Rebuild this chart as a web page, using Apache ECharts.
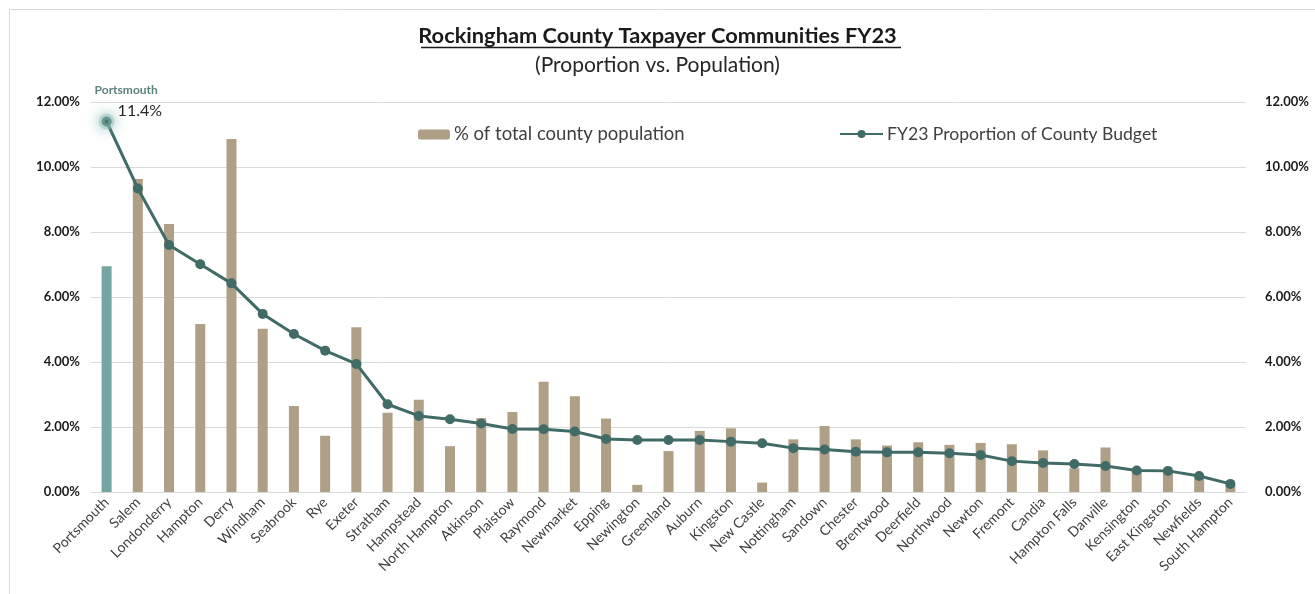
<!DOCTYPE html>
<html>
<head>
<meta charset="utf-8">
<title>Rockingham County Taxpayer Communities FY23</title>
<script src="https://cdn.jsdelivr.net/npm/echarts@6/dist/echarts.min.js"></script>
<style>
  html, body { margin: 0; padding: 0; background: #ffffff; }
  #chart { width: 1315px; height: 594px; }
</style>
</head>
<body>
<div id="chart"></div>
<script>
// Towns of Rockingham County, ordered by share of the FY23 county budget
const towns = [
  'Portsmouth', 'Salem', 'Londonderry', 'Hampton', 'Derry', 'Windham', 'Seabrook', 'Rye',
  'Exeter', 'Stratham', 'Hampstead', 'North Hampton', 'Atkinson', 'Plaistow', 'Raymond',
  'Newmarket', 'Epping', 'Newington', 'Greenland', 'Auburn', 'Kingston', 'New Castle',
  'Nottingham', 'Sandown', 'Chester', 'Brentwood', 'Deerfield', 'Northwood', 'Newton',
  'Fremont', 'Candia', 'Hampton Falls', 'Danville', 'Kensington', 'East Kingston',
  'Newfields', 'South Hampton'
];

// % of total county population
const populationShare = [
  6.95, 9.63, 8.25, 5.17, 10.86, 5.02, 2.65, 1.73,
  5.07, 2.44, 2.84, 1.41, 2.27, 2.46, 3.39,
  2.95, 2.26, 0.22, 1.26, 1.88, 1.96, 0.29,
  1.62, 2.03, 1.62, 1.43, 1.53, 1.45, 1.51,
  1.47, 1.28, 0.73, 1.37, 0.65, 0.62,
  0.50, 0.22
];

// FY23 proportion of county budget (%)
const budgetShare = [
  11.4, 9.34, 7.60, 7.01, 6.42, 5.48, 4.86, 4.35,
  3.94, 2.70, 2.34, 2.24, 2.11, 1.94, 1.93,
  1.86, 1.63, 1.60, 1.60, 1.60, 1.55, 1.50,
  1.35, 1.31, 1.24, 1.22, 1.22, 1.19, 1.14,
  0.95, 0.89, 0.86, 0.80, 0.66, 0.65,
  0.49, 0.25
];

// Value axis ticks (%)
const axisMin = 0;
const axisMax = 12;
const axisStep = 2;

const seriesNames = ['% of total county population', 'FY23 Proportion of County Budget'];
const featuredTown = 'Portsmouth';

const TAN = '#b09f87';
const TEAL_BAR = '#74a5a2';
const TEAL_LINE = '#416b66';
const GRID = '#d9d9d9';
const FONT = 'Lato, "Open Sans", sans-serif';

const chart = echarts.init(document.getElementById('chart'), null, { renderer: 'canvas' });

const barData = populationShare.map((v, i) =>
  towns[i] === featuredTown ? { value: v, itemStyle: { color: TEAL_BAR } } : v
);

const lineData = budgetShare.map((v, i) => {
  if (towns[i] !== featuredTown) return v;
  return {
    value: v,
    // soft halo around the featured town's point
    itemStyle: { borderColor: 'rgba(140,190,183,0.45)', borderWidth: 6, shadowBlur: 14, shadowColor: 'rgba(120,178,170,1)' },
    label: {
      show: true,
      position: 'top',
      align: 'left',
      distance: 5,
      offset: [-12, 12],
      formatter: () => '{town|' + featuredTown + '}\n{val|' + v.toFixed(1) + '%}',
      rich: {
        town: { fontFamily: FONT, fontSize: 12, fontWeight: 'bold', color: '#5b817d', lineHeight: 20 },
        val: { fontFamily: FONT, fontSize: 16, color: '#262626', lineHeight: 20, padding: [0, 0, 0, 23] }
      }
    }
  };
});

const valueAxis = (side, margin) => ({
  type: 'value',
  position: side,
  min: axisMin,
  max: axisMax,
  interval: axisStep,
  axisLine: { show: false },
  axisTick: { show: false },
  splitLine: { show: side === 'left', lineStyle: { color: GRID, width: 1 } },
  axisLabel: {
    margin: margin,
    color: '#1a1a1a',
    fontFamily: FONT,
    fontSize: 13,
    fontWeight: 'bold',
    formatter: (v) => v.toFixed(2) + '%'
  }
});

chart.setOption({
  backgroundColor: '#ffffff',
  animation: false,
  title: {
    text: 'Rockingham County Taxpayer Communities FY23',
    subtext: '(Proportion vs. Population)',
    left: 'center',
    top: 20,
    itemGap: 8,
    textStyle: { fontFamily: FONT, fontSize: 21.8, fontWeight: 'bold', color: '#1a1a1a' },
    subtextStyle: { fontFamily: FONT, fontSize: 21, color: '#262626' }
  },
  graphic: [
    {
      // chart frame
      type: 'rect',
      left: 7,
      top: 7,
      shape: { width: 1330, height: 610 },
      style: { fill: 'none', stroke: GRID, lineWidth: 1 },
      silent: true
    },
    {
      // title underline
      type: 'line',
      shape: { x1: 421, y1: 47.5, x2: 901, y2: 47.5 },
      style: { stroke: '#1a1a1a', lineWidth: 1.3 },
      silent: true
    }
  ],
  legend: [
    {
      data: [seriesNames[0]],
      left: 413,
      top: 120,
      itemWidth: 32,
      itemHeight: 10,
      itemGap: 4,
      textStyle: { fontFamily: FONT, fontSize: 18.5, color: '#404040', padding: [0, 0, 0, -1] }
    },
    {
      data: [seriesNames[1]],
      left: 834,
      top: 120,
      itemWidth: 43,
      itemHeight: 10,
      textStyle: { fontFamily: FONT, fontSize: 17.6, color: '#404040', padding: [0, 0, 0, -1] }
    }
  ],
  grid: {
    left: 91,
    right: 69,
    top: 102,
    bottom: 102,
    containLabel: false
  },
  xAxis: {
    type: 'category',
    data: towns,
    axisLine: { show: true, lineStyle: { color: GRID, width: 1 } },
    axisTick: { show: false },
    axisLabel: {
      interval: 0,
      rotate: 45,
      margin: 8,
      color: '#404040',
      fontFamily: FONT,
      fontSize: 14
    }
  },
  yAxis: [valueAxis('left', 11), valueAxis('right', 19)],
  series: [
    {
      name: seriesNames[0],
      type: 'bar',
      yAxisIndex: 0,
      data: barData,
      barWidth: 10,
      itemStyle: { color: TAN },
      z: 2
    },
    {
      name: seriesNames[1],
      type: 'line',
      yAxisIndex: 1,
      data: lineData,
      symbol: 'circle',
      symbolSize: 10,
      lineStyle: { color: TEAL_LINE, width: 3 },
      itemStyle: { color: TEAL_LINE },
      z: 3
    }
  ]
});
</script>
</body>
</html>
